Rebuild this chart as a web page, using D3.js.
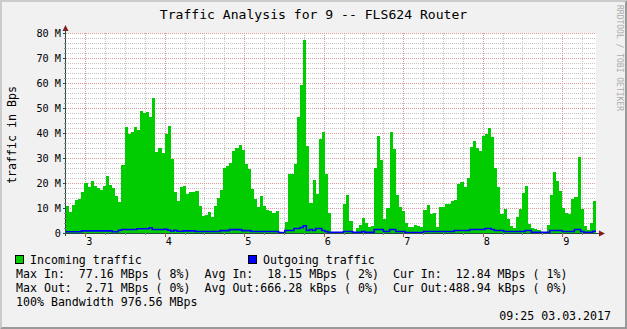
<!DOCTYPE html>
<html>
<head>
<meta charset="utf-8">
<script src="https://cdn.jsdelivr.net/npm/d3@7"></script>
<style>
  body { margin: 0; background: #f1f1f1; }
  svg { display: block; font-family: "DejaVu Sans Mono", monospace; }
</style>
</head>
<body>
<div id="chart"></div>
<script>
// Incoming traffic (MBps), one value per sample
const incoming = [
  10.7, 8.4, 11.2, 13.2, 13.6, 16.4, 20, 18.4, 20.7, 18.8, 18, 17.2, 18.8, 22.8, 19.2, 18, 14.8, 12.5, 27.2, 42.4,
  39.6, 40.4, 42.4, 41.2, 48.8, 48, 48.4, 46.4, 54, 32.4, 34, 32, 39.6, 42.8, 29.6, 16.4, 12.8, 18.4, 18.8, 15.6,
  16.4, 16.4, 16.8,
  10.8, 6.8, 7.2, 8.4, 6.4, 10.8, 14, 17.2, 26, 26.8, 28, 32.8, 34, 35.2, 33.2, 27.6, 25.6, 17.6, 13.6, 10.4,
  14.8, 10.8, 9.2, 8.8, 8, 8.8, 0.4, 0.4, 4.4, 23.6, 23.6, 27.6, 46.4, 59.2, 77.16, 34.8, 12, 21.2, 15.6, 37.6,
  40.4, 23.6, 8,
  0.5, 0, 0, 0, 11.6, 15.2, 4.8, 0, 2, 3.2, 6, 4, 2.4, 2.8, 26, 38.8, 29.2, 5.6, 10, 40.4,
  33.6, 15.2, 10.4, 8.8, 4, 2.4, 2.4, 3.2, 2.8, 2.4, 9.2, 11.2, 7.6, 8, 2.4, 10.4, 10.4, 11.6, 11.6, 12.8,
  13.2, 19.6,
  20.4, 18.4, 22, 34.4, 36.8, 34, 32.8, 38.8, 39.6, 42, 38.4, 26, 18.4, 7.6, 9.6, 5.6, 2.8, 2, 6.4, 9.6,
  16, 18.8, 3.6, 2, 1.6, 1.2, 0.4, 0.4, 3.2, 15.2, 24.4, 20.8, 16.8, 10, 8, 7.6, 13.6, 14.4, 30.4, 9.6,
  2.8, 1.2, 4, 12.84
];

// Outgoing traffic (MBps), same samples
const outgoing = [
  0.3, 0.3, 0.3, 0.3, 0.3, 0.65, 0.65, 0.65, 0.65, 0.65, 0.65, 0.65, 0.65, 0.65, 0.65, 0.3, 0.3, 0.9, 1.2, 1.2,
  1.2, 1.2, 1.2, 1.5, 1.5, 1.5, 1.5, 1.9, 1.2, 1.2, 1.2, 1.2, 1.3, 0.9, 0.5, 0.9, 0.5, 0.5, 0.65, 0.65,
  0.65, 0.65, 0.4, 0.4, 0.4, 0.4, 0.4, 0.4, 0.4, 0.4, 0.75, 0.75, 0.75, 1.15, 1.15, 1.15, 1.15, 0.75, 0.75, 0.75,
  0.4, 0.4, 0.4, 0.4, 0.4, 0.4, 0.4, 0.4, 0.4, 0, 0, 0.8, 0.8, 0.8, 1.6, 1.6, 2.0, 2.71, 0.8, 1.2,
  0.8, 1.6, 1.6, 0.8, 0.4, 0.1, 0.1, 0.1, 0.1, 0.1, 0.4, 0.4, 0.4, 0.1, 0.1, 0.1, 0.4, 0.1, 0.1, 0.1,
  1.2, 1.2, 1.2, 0.4, 0.4, 1.2, 1.2, 0.4, 0.4, 0.4, 0, 0, 0, 0, 0, 0, 0.4, 0.4, 0.4, 0.4,
  0.4, 0.4, 0.4, 0.4, 0.4, 0.4, 0.8, 0.8, 0.8, 0.8, 0.8, 1.2, 1.2, 1.2, 1.2, 1.2, 1.6, 1.6, 1.2, 0.8,
  0.8, 0.8, 0.4, 0.4, 0.4, 0.4, 0.4, 0.4, 0.4, 0.8, 0.8, 0.1, 0.1, 0.1, 0.1, 0.1, 0.1, 0.8, 0.8, 0.8,
  0.8, 0.4, 0.4, 0.4, 0.4, 1.2, 1.2, 0.4, 0.1, 0.1, 0.1, 0.49
];

const yTicks = [0, 10, 20, 30, 40, 50, 60, 70, 80];
const yTickLabels = ["0", "10 M", "20 M", "30 M", "40 M", "50 M", "60 M", "70 M", "80 M"];
const yMinorTicks = [2, 4, 6, 8, 12, 14, 16, 18, 22, 24, 26, 28, 32, 34, 36, 38, 42, 44, 46, 48,
                     52, 54, 56, 58, 62, 64, 66, 68, 72, 74, 76, 78];

const title = "Traffic Analysis for 9 -- FLS624 Router";
const unitLabel = "traffic in Bps";
const watermark = "RRDTOOL / TOBI OETIKER";
const legendNames = ["Incoming traffic", "Outgoing traffic"];
const statRows = [
  "Max In:  77.16 MBps ( 8%)  Avg In:  18.15 MBps ( 2%)  Cur In:  12.84 MBps ( 1%)",
  "Max Out:  2.71 MBps ( 0%)  Avg Out:666.28 kBps ( 0%)  Cur Out:488.94 kBps ( 0%)",
  "100% Bandwidth 976.56 MBps"
];
const stamp = "09:25 03.03.2017";

const W = 627, H = 329;
const pL = 66, pR = 596, pT = 33, pB = 233;
const inColor = "#00cc00", outColor = "#0000ff";
const axisColor = "#2c4d43", arrowColor = "#7f1f1f";

const t0 = new Date(2017, 2, 3, 2, 45, 30);
const t1 = new Date(2017, 2, 3, 9, 25, 30);
const step = (t1 - t0) / incoming.length;

const x = d3.scaleTime().domain([t0, t1]).range([pL, pR]);
const y = d3.scaleLinear().domain([0, 80]).range([pB, pT]);

const svg = d3.select("#chart").append("svg")
  .attr("width", W).attr("height", H);

// fondo y sombreado del marco
svg.append("rect").attr("width", W).attr("height", H).attr("fill", "#f1f1f1");
svg.append("path").attr("d", `M0,0 H${W} L${W - 2},2 H2 V${H - 2} L0,${H} Z`).attr("fill", "#cbcbcb");
svg.append("path").attr("d", `M${W},0 V${H} H0 L2,${H - 2} H${W - 2} V2 Z`).attr("fill", "#999999");

// lienzo
svg.append("rect")
  .attr("x", pL).attr("y", pT)
  .attr("width", pR - pL).attr("height", pB - pT)
  .attr("fill", "#ffffff");

// rejilla
const minorGrid = "#c4c4c4", majorGrid = "#dc9a9a";
const g = svg.append("g").attr("shape-rendering", "crispEdges");

g.selectAll(".ymin").data(yMinorTicks).join("line")
  .attr("x1", pL).attr("x2", pR)
  .attr("y1", d => Math.round(y(d)) + 0.5).attr("y2", d => Math.round(y(d)) + 0.5)
  .attr("stroke", minorGrid).attr("stroke-dasharray", "1,1");

const quarter = x.ticks(d3.timeMinute.every(15)).filter(d => d.getMinutes() !== 0);
const hours = x.ticks(d3.timeHour.every(1));

g.selectAll(".xmin").data(quarter).join("line")
  .attr("x1", d => Math.round(x(d)) + 0.5).attr("x2", d => Math.round(x(d)) + 0.5)
  .attr("y1", pT).attr("y2", pB)
  .attr("stroke", minorGrid).attr("stroke-dasharray", "1,1");

g.selectAll(".ymaj").data(yTicks.slice(1)).join("line")
  .attr("x1", pL).attr("x2", pR)
  .attr("y1", d => Math.round(y(d)) + 0.5).attr("y2", d => Math.round(y(d)) + 0.5)
  .attr("stroke", majorGrid).attr("stroke-dasharray", "1,1");

g.selectAll(".xmaj").data(hours).join("line")
  .attr("x1", d => Math.round(x(d)) + 0.5).attr("x2", d => Math.round(x(d)) + 0.5)
  .attr("y1", pT).attr("y2", pB)
  .attr("stroke", majorGrid).attr("stroke-dasharray", "1,1");

// datos: se añade un punto final para cerrar el último escalón
const pts = arr => arr.map((v, i) => [new Date(+t0 + i * step), v])
  .concat([[t1, arr[arr.length - 1]]]);

const area = d3.area()
  .curve(d3.curveStepAfter)
  .x(d => x(d[0])).y0(y(0)).y1(d => y(d[1]));

svg.append("path")
  .datum(pts(incoming))
  .attr("d", area)
  .attr("fill", inColor)
  .attr("shape-rendering", "crispEdges");

const line = d3.line()
  .curve(d3.curveStepAfter)
  .x(d => x(d[0])).y(d => y(d[1]) - 0.5);

svg.append("path")
  .datum(pts(outgoing))
  .attr("d", line)
  .attr("fill", "none")
  .attr("stroke", outColor)
  .attr("stroke-width", 1.6);

// ejes
const ax = svg.append("g").attr("shape-rendering", "crispEdges");
ax.append("line").attr("x1", pL - 0.5).attr("x2", pL - 0.5).attr("y1", pB + 3).attr("y2", pT - 4)
  .attr("stroke", axisColor);
ax.append("line").attr("x1", pL - 3).attr("x2", pR + 4).attr("y1", pB + 0.5).attr("y2", pB + 0.5)
  .attr("stroke", axisColor);

ax.selectAll(".yt").data(yTicks).join("line")
  .attr("x1", pL - 3).attr("x2", pL)
  .attr("y1", d => Math.round(y(d)) + 0.5).attr("y2", d => Math.round(y(d)) + 0.5)
  .attr("stroke", axisColor);
ax.selectAll(".ymt").data(yMinorTicks).join("line")
  .attr("x1", pL - 2).attr("x2", pL)
  .attr("y1", d => Math.round(y(d)) + 0.5).attr("y2", d => Math.round(y(d)) + 0.5)
  .attr("stroke", "#888");
ax.selectAll(".xt").data(hours).join("line")
  .attr("x1", d => Math.round(x(d)) + 0.5).attr("x2", d => Math.round(x(d)) + 0.5)
  .attr("y1", pB).attr("y2", pB + 4)
  .attr("stroke", "#c05050");
ax.selectAll(".xmt").data(quarter).join("line")
  .attr("x1", d => Math.round(x(d)) + 0.5).attr("x2", d => Math.round(x(d)) + 0.5)
  .attr("y1", pB).attr("y2", pB + 2)
  .attr("stroke", "#888");

// flechas
svg.append("path").attr("d", `M${pL - 0.5},${pT - 8} L${pL + 2.5},${pT - 2} L${pL - 3.5},${pT - 2} Z`)
  .attr("fill", arrowColor);
svg.append("path").attr("d", `M${pR + 9},${pB + 0.5} L${pR + 3},${pB - 2.5} L${pR + 3},${pB + 3.5} Z`)
  .attr("fill", arrowColor);

// etiquetas de los ejes
svg.selectAll(".yl").data(yTicks).join("text")
  .attr("x", pL - 5).attr("y", d => y(d) + 3.6)
  .attr("text-anchor", "end")
  .style("font-size", "10.2px")
  .text((d, i) => yTickLabels[i]);

svg.selectAll(".xl").data(hours).join("text")
  .attr("x", d => x(d) + 4).attr("y", pB + 12)
  .attr("text-anchor", "middle")
  .style("font-size", "10.2px")
  .text(d3.timeFormat("%-H"));

// textos
svg.append("text").attr("x", W / 2).attr("y", 19)
  .attr("text-anchor", "middle").style("font-size", "13.1px").text(title);

svg.append("text")
  .attr("transform", `translate(16,135) rotate(-90)`)
  .attr("text-anchor", "middle").style("font-size", "11.6px").text(unitLabel);

svg.append("text")
  .attr("transform", `translate(617,58) rotate(90)`)
  .attr("text-anchor", "middle").style("font-size", "8px").attr("fill", "#acacac").text(watermark);

// leyenda
const legX = [15, 248];
[inColor, outColor].forEach((c, i) => {
  svg.append("rect").attr("x", legX[i] + 0.5).attr("y", 255.5).attr("width", 8).attr("height", 8)
    .attr("fill", c).attr("stroke", "#000").attr("shape-rendering", "crispEdges");
  svg.append("text").attr("x", legX[i] + 15).attr("y", 263.5)
    .style("font-size", "11.6px").text(legendNames[i]);
});

statRows.forEach((r, i) => {
  svg.append("text").attr("x", 16).attr("y", 277.5 + i * 14)
    .style("font-size", "11.6px").style("white-space", "pre").text(r);
});

svg.append("text").attr("x", 611).attr("y", 319.5)
  .attr("text-anchor", "end").style("font-size", "11.6px").text(stamp);
</script>
</body>
</html>
